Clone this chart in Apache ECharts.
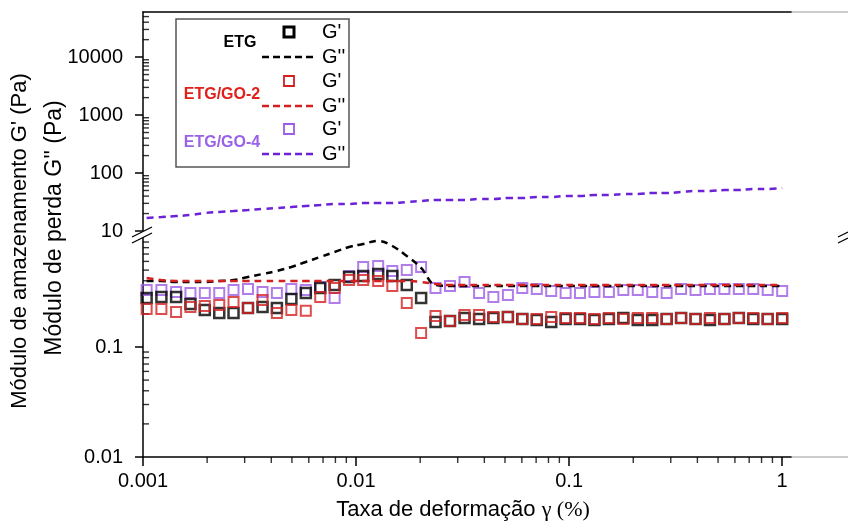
<!DOCTYPE html>
<html>
<head>
<meta charset="utf-8">
<script src="https://cdn.jsdelivr.net/npm/echarts@6/dist/echarts.min.js"></script>
<style>
  html, body { margin: 0; padding: 0; background: #fff; }
  #chart { width: 848px; height: 529px; }
</style>
</head>
<body>
<div id="chart"></div>
<script>
// strain amplitude (%)
const strain = [0.00104, 0.00122, 0.00143, 0.00167, 0.00195, 0.00228, 0.00266, 0.00311, 0.00364, 0.00425,
  0.00497, 0.00581, 0.00679, 0.00793, 0.00927, 0.0108, 0.0127, 0.0148, 0.0173, 0.0202,
  0.0236, 0.0276, 0.0323, 0.0378, 0.0441, 0.0516, 0.0603, 0.0705, 0.0824, 0.0963,
  0.1125, 0.1315, 0.1537, 0.1797, 0.21, 0.2455, 0.2869, 0.3354, 0.392, 0.4581,
  0.5355, 0.6259, 0.7315, 0.855, 1.0]

// G' (Pa)
const etgGp = [0.279, 0.285, 0.285, 0.246, 0.217, 0.204, 0.204, 0.226, 0.231, 0.226,
  0.273, 0.310, 0.344, 0.366, 0.433, 0.442, 0.461, 0.442, 0.366, 0.279,
  0.169, 0.172, 0.183, 0.180, 0.183, 0.187, 0.180, 0.176, 0.169, 0.180,
  0.180, 0.176, 0.180, 0.183, 0.176, 0.176, 0.180, 0.183, 0.180, 0.176,
  0.180, 0.183, 0.180, 0.180, 0.180]
const go2Gp = [0.222, 0.222, 0.208, 0.231, 0.236, 0.241, 0.257, 0.226, 0.268, 0.204,
  0.217, 0.213, 0.285, 0.344, 0.406, 0.406, 0.398, 0.359, 0.251, 0.134,
  0.191, 0.172, 0.195, 0.195, 0.187, 0.187, 0.180, 0.180, 0.187, 0.183,
  0.183, 0.180, 0.183, 0.180, 0.183, 0.183, 0.180, 0.183, 0.180, 0.183,
  0.180, 0.183, 0.183, 0.180, 0.183]
const go4Gp = [0.330, 0.330, 0.316, 0.310, 0.310, 0.310, 0.330, 0.337, 0.316, 0.310,
  0.337, 0.330, 0.351, 0.279, 0.442, 0.534, 0.545, 0.491, 0.501, 0.534,
  0.344, 0.359, 0.390, 0.310, 0.285, 0.297, 0.344, 0.337, 0.323, 0.310,
  0.310, 0.316, 0.316, 0.330, 0.330, 0.316, 0.310, 0.337, 0.330, 0.337,
  0.337, 0.337, 0.337, 0.330, 0.323]

// G'' (Pa)
const etgGpp = [0.398, 0.398, 0.390, 0.390, 0.390, 0.398, 0.406, 0.433, 0.461, 0.491,
  0.534, 0.593, 0.658, 0.731, 0.811, 0.864, 0.920, 0.828, 0.672, 0.523,
  0.366, 0.359, 0.359, 0.359, 0.359, 0.359, 0.359, 0.359, 0.359, 0.359,
  0.359, 0.359, 0.359, 0.359, 0.359, 0.359, 0.359, 0.359, 0.359, 0.359,
  0.359, 0.359, 0.359, 0.359, 0.359]
const go2Gpp = [0.424, 0.406, 0.398, 0.398, 0.398, 0.398, 0.398, 0.398, 0.398, 0.398,
  0.398, 0.398, 0.398, 0.398, 0.398, 0.398, 0.398, 0.398, 0.398, 0.390,
  0.374, 0.366, 0.366, 0.366, 0.366, 0.366, 0.366, 0.366, 0.366, 0.366,
  0.366, 0.366, 0.366, 0.366, 0.366, 0.366, 0.366, 0.366, 0.366, 0.366,
  0.366, 0.366, 0.366, 0.366, 0.366]
const go4Gpp = [16.8, 17.4, 18.1, 18.9, 20.4, 21.3, 22.1, 23.0, 24.0, 24.9,
  25.9, 27.0, 28.1, 29.2, 29.2, 30.4, 30.4, 30.4, 31.6, 32.9,
  34.2, 34.2, 34.2, 35.6, 35.6, 37.1, 37.1, 38.6, 38.6, 40.1,
  40.1, 41.8, 41.8, 43.4, 43.4, 45.2, 45.2, 47.0, 48.9, 48.9,
  50.9, 50.9, 53.0, 53.0, 55.1]

// tick labels
const xTicks = [0.001, 0.01, 0.1, 1]
const yTicksUp = [10, 100, 1000, 10000]
const yTicksLow = [0.01, 0.1]

const FONT = 'Liberation Sans, Arial, sans-serif'
const BLACK = '#000'
const RED = '#d42020'
const PURPLE = '#9d5ce6'
const PURPLE_LINE = '#6c22d6'

// minor log ticks 2..9 x 10^e
function minors(lo, hi, top) {
  let out = []
  for (let e = lo; e < hi; e++) {
    for (let m = 2; m <= 9; m++) {
      let v = +(m * Math.pow(10, e)).toPrecision(3)
      if (v < top) out.push(v)
    }
  }
  return out
}

function pairs(xs, ys) {
  return xs.map((x, i) => [x, ys[i]])
}

// short minor tick marks, placed by the axes' own scales
function tickSeries(xIdx, yIdx, data, vertical) {
  return {
    type: 'scatter', xAxisIndex: xIdx, yAxisIndex: yIdx, clip: false,
    data: data,
    symbol: 'rect',
    symbolSize: vertical ? [1.4, 6] : [6, 1.4],
    symbolOffset: vertical ? [0, 3] : [3, 0],
    itemStyle: { color: BLACK }
  }
}

const fmt = (v) => String(+(+v).toPrecision(6))

const chart = echarts.init(document.getElementById('chart'), null, { renderer: 'canvas' })

const lineAx = { show: true, onZero: false, lineStyle: { color: BLACK, width: 1.5 } }
const labelStyle = { color: BLACK, fontSize: 20, fontFamily: FONT, formatter: fmt }

chart.setOption({
  animation: false,
  backgroundColor: '#fff',
  grid: [
    { left: 143, top: 12, width: 648, height: 219, containLabel: false, outerBoundsMode: 'none' },
    { left: 143, top: 232, width: 648, height: 225, containLabel: false, outerBoundsMode: 'none' }
  ],
  xAxis: [
    {
      gridIndex: 1, type: 'log', logBase: 10, min: 0.001, max: 1.1, position: 'bottom',
      axisLine: lineAx,
      axisTick: { customValues: xTicks, length: 9, lineStyle: { color: BLACK, width: 1.5 } },
      axisLabel: Object.assign({ customValues: xTicks, margin: 14 }, labelStyle),
      splitLine: { show: false },
      name: '{a|Taxa de deformação }{b|γ (%)}',
      nameLocation: 'middle',
      nameGap: 42,
      nameTextStyle: {
        padding: [0, 8, 0, 0],
        rich: {
          a: { fontSize: 22, fontFamily: FONT, color: BLACK },
          b: { fontSize: 22, fontFamily: 'Liberation Serif, Times New Roman, serif', color: BLACK }
        }
      }
    },
    {
      gridIndex: 0, type: 'log', logBase: 10, min: 0.001, max: 1.1, position: 'top',
      axisLine: lineAx,
      axisTick: { show: false },
      axisLabel: { show: false },
      splitLine: { show: false }
    }
  ],
  yAxis: [
    {
      gridIndex: 0, type: 'log', logBase: 10, min: 10, max: 60000, position: 'left',
      axisLine: lineAx,
      axisTick: { customValues: yTicksUp, length: 8, lineStyle: { color: BLACK, width: 1.5 } },
      axisLabel: Object.assign({ customValues: yTicksUp, margin: 20 }, labelStyle),
      splitLine: { show: false }
    },
    {
      gridIndex: 1, type: 'log', logBase: 10, min: 0.01, max: 1.11, position: 'left',
      axisLine: lineAx,
      axisTick: { customValues: yTicksLow, length: 8, lineStyle: { color: BLACK, width: 1.5 } },
      axisLabel: Object.assign({ customValues: yTicksLow, margin: 20 }, labelStyle),
      splitLine: { show: false }
    }
  ],
  series: [
    tickSeries(0, 1, minors(-3, 0, 1.1).map((v) => [v, 0.01]), true),
    tickSeries(1, 0, minors(1, 5, 60000).map((v) => [0.001, v]), false),
    tickSeries(0, 1, minors(-2, 0, 1.11).map((v) => [0.001, v]), false),
    {
      name: "ETG G''", type: 'line', xAxisIndex: 0, yAxisIndex: 1,
      data: pairs(strain, etgGpp), smooth: 0.4, showSymbol: false,
      lineStyle: { color: BLACK, width: 2.5, type: [7, 5] }
    },
    {
      name: "ETG/GO-2 G''", type: 'line', xAxisIndex: 0, yAxisIndex: 1,
      data: pairs(strain, go2Gpp), smooth: 0.4, showSymbol: false,
      lineStyle: { color: RED, width: 2.5, type: [7, 5] }
    },
    {
      name: "ETG/GO-4 G''", type: 'line', xAxisIndex: 1, yAxisIndex: 0,
      data: pairs(strain, go4Gpp), smooth: 0.4, showSymbol: false,
      lineStyle: { color: PURPLE_LINE, width: 2.5, type: [7, 5] }
    },
    {
      name: "ETG/GO-4 G'", type: 'scatter', xAxisIndex: 0, yAxisIndex: 1,
      data: pairs(strain, go4Gp), symbol: 'rect', symbolSize: 10,
      itemStyle: { color: 'transparent', borderColor: PURPLE, borderWidth: 2 }
    },
    {
      name: "ETG G'", type: 'scatter', xAxisIndex: 0, yAxisIndex: 1,
      data: pairs(strain, etgGp), symbol: 'rect', symbolSize: 10,
      itemStyle: { color: 'transparent', borderColor: BLACK, borderWidth: 2.5 }
    },
    {
      name: "ETG/GO-2 G'", type: 'scatter', xAxisIndex: 0, yAxisIndex: 1,
      data: pairs(strain, go2Gp), symbol: 'rect', symbolSize: 10,
      itemStyle: { color: 'transparent', borderColor: RED, borderWidth: 2 }
    }
  ],
  graphic: [
    // axis titles
    {
      type: 'text', x: 20, y: 241, rotation: Math.PI / 2,
      style: { text: "Módulo de amazenamento G' (Pa)", fontSize: 22, fontFamily: FONT, fill: BLACK, align: 'center', verticalAlign: 'middle' }
    },
    {
      type: 'text', x: 55, y: 228, rotation: Math.PI / 2,
      style: { text: "Módulo de perda G'' (Pa)", fontSize: 23, fontFamily: FONT, fill: BLACK, align: 'center', verticalAlign: 'middle' }
    },
    // frame continuation on the right
    { type: 'line', shape: { x1: 791, y1: 12, x2: 848, y2: 12 }, style: { stroke: '#999', lineWidth: 1.2 } },
    { type: 'line', shape: { x1: 791, y1: 457, x2: 848, y2: 457 }, style: { stroke: '#999', lineWidth: 1.2 } },
    // axis break marks
    { type: 'polygon', shape: { points: [[133, 236], [152, 227], [152, 233], [133, 242]] }, style: { fill: '#fff' }, z: 100 },
    { type: 'line', shape: { x1: 132, y1: 237, x2: 152, y2: 227 }, style: { stroke: BLACK, lineWidth: 1.3 }, z: 101 },
    { type: 'line', shape: { x1: 132, y1: 243, x2: 152, y2: 233 }, style: { stroke: BLACK, lineWidth: 1.3 }, z: 101 },
    { type: 'line', shape: { x1: 838, y1: 237, x2: 848, y2: 232 }, style: { stroke: BLACK, lineWidth: 1.2 }, z: 101 },
    { type: 'line', shape: { x1: 838, y1: 243, x2: 848, y2: 238 }, style: { stroke: BLACK, lineWidth: 1.2 }, z: 101 },
    // legend
    {
      type: 'group', z: 110,
      children: [
        { type: 'rect', shape: { x: 176, y: 19, width: 173, height: 148 }, style: { fill: '#fff', stroke: '#555', lineWidth: 1.5 } },
        { type: 'text', x: 240, y: 43, style: { text: 'ETG', fontSize: 16, fontWeight: 'bold', fontFamily: FONT, fill: BLACK, align: 'center', verticalAlign: 'middle' } },
        { type: 'text', x: 222, y: 95, style: { text: 'ETG/GO-2', fontSize: 16, fontWeight: 'bold', fontFamily: FONT, fill: '#e0201a', align: 'center', verticalAlign: 'middle' } },
        { type: 'text', x: 222, y: 143, style: { text: 'ETG/GO-4', fontSize: 16, fontWeight: 'bold', fontFamily: FONT, fill: '#9a62e6', align: 'center', verticalAlign: 'middle' } },
        { type: 'rect', shape: { x: 284, y: 27, width: 10, height: 10 }, style: { fill: 'none', stroke: BLACK, lineWidth: 3 } },
        { type: 'rect', shape: { x: 284, y: 76, width: 10, height: 10 }, style: { fill: 'none', stroke: RED, lineWidth: 1.8 } },
        { type: 'rect', shape: { x: 284, y: 124, width: 10, height: 10 }, style: { fill: 'none', stroke: PURPLE, lineWidth: 1.8 } },
        { type: 'line', shape: { x1: 262, y1: 57, x2: 314, y2: 57 }, style: { stroke: BLACK, lineWidth: 2.5, lineDash: [7, 4] } },
        { type: 'line', shape: { x1: 262, y1: 106, x2: 314, y2: 106 }, style: { stroke: RED, lineWidth: 2.5, lineDash: [7, 4] } },
        { type: 'line', shape: { x1: 262, y1: 154, x2: 314, y2: 154 }, style: { stroke: PURPLE_LINE, lineWidth: 2.5, lineDash: [7, 4] } },
        { type: 'text', x: 322, y: 32, style: { text: "G'", fontSize: 20, fontFamily: FONT, fill: BLACK, verticalAlign: 'middle' } },
        { type: 'text', x: 322, y: 57, style: { text: "G''", fontSize: 20, fontFamily: FONT, fill: BLACK, verticalAlign: 'middle' } },
        { type: 'text', x: 322, y: 81, style: { text: "G'", fontSize: 20, fontFamily: FONT, fill: BLACK, verticalAlign: 'middle' } },
        { type: 'text', x: 322, y: 106, style: { text: "G''", fontSize: 20, fontFamily: FONT, fill: BLACK, verticalAlign: 'middle' } },
        { type: 'text', x: 322, y: 129, style: { text: "G'", fontSize: 20, fontFamily: FONT, fill: BLACK, verticalAlign: 'middle' } },
        { type: 'text', x: 322, y: 154, style: { text: "G''", fontSize: 20, fontFamily: FONT, fill: BLACK, verticalAlign: 'middle' } }
      ]
    }
  ]
})
</script>
</body>
</html>
